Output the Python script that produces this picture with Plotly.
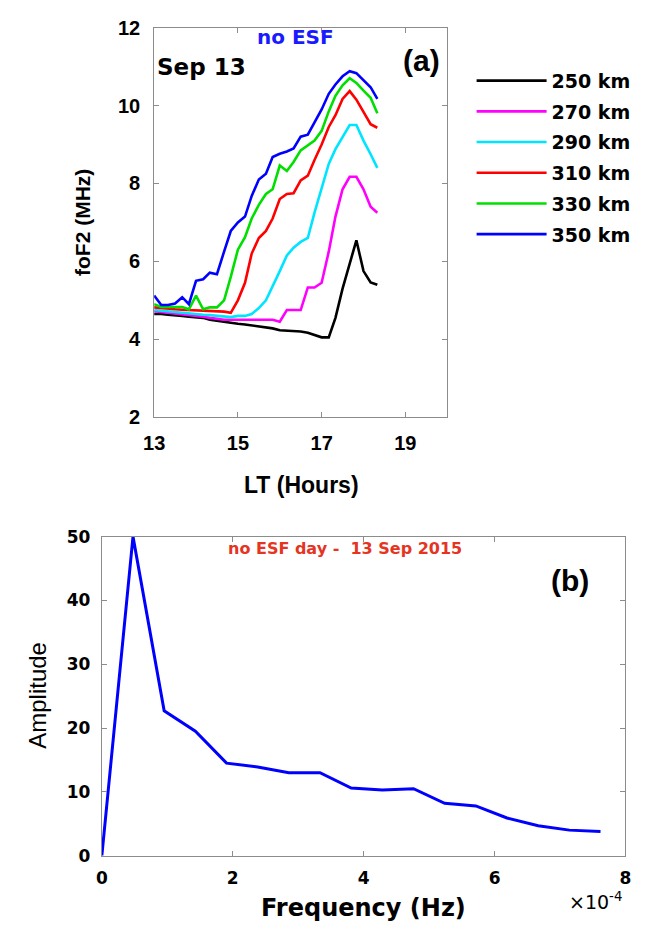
import plotly.graph_objects as go

W, H = 648, 935

# ---------------- data: panel (a) ----------------
lt_hours = [13.00, 13.17, 13.33, 13.50, 13.67, 13.83, 14.00, 14.17, 14.33, 14.50, 14.67,
            14.83, 15.00, 15.17, 15.33, 15.50, 15.67, 15.83, 16.00, 16.17, 16.33, 16.50,
            16.67, 16.83, 17.00, 17.17, 17.33, 17.50, 17.67, 17.83, 18.00, 18.17, 18.33]

fof2_250 = [4.65, 4.65, 4.63, 4.62, 4.60, 4.58, 4.57, 4.55, 4.50, 4.47, 4.45,
            4.42, 4.40, 4.38, 4.36, 4.33, 4.30, 4.28, 4.23, 4.22, 4.22, 4.20,
            4.17, 4.12, 4.05, 4.05, 4.55, 5.30, 5.96, 6.54, 5.75, 5.46, 5.40]
fof2_270 = [4.72, 4.70, 4.68, 4.67, 4.65, 4.63, 4.60, 4.58, 4.55, 4.52, 4.50,
            4.50, 4.50, 4.50, 4.50, 4.50, 4.50, 4.50, 4.45, 4.75, 4.75, 4.75,
            5.33, 5.33, 5.45, 6.25, 7.15, 7.85, 8.17, 8.17, 7.85, 7.40, 7.25]
fof2_290 = [4.75, 4.73, 4.72, 4.70, 4.68, 4.67, 4.65, 4.63, 4.62, 4.60, 4.58,
            4.57, 4.60, 4.60, 4.65, 4.80, 5.00, 5.35, 5.75, 6.15, 6.35, 6.50,
            6.60, 7.25, 7.85, 8.50, 8.88, 9.20, 9.50, 9.50, 9.10, 8.75, 8.40]
fof2_310 = [4.82, 4.80, 4.78, 4.77, 4.76, 4.75, 4.74, 4.73, 4.72, 4.72, 4.71,
            4.68, 5.00, 5.45, 6.20, 6.60, 6.78, 7.10, 7.60, 7.73, 7.75, 8.08,
            8.20, 8.60, 9.00, 9.45, 9.75, 10.17, 10.37, 10.15, 9.85, 9.52, 9.43]
fof2_330 = [4.90, 4.83, 4.83, 4.83, 4.83, 4.77, 5.12, 4.77, 4.82, 4.82, 5.00,
            5.60, 6.30, 6.62, 7.10, 7.45, 7.73, 7.85, 8.46, 8.32, 8.55, 8.85,
            8.98, 9.10, 9.35, 9.85, 10.25, 10.52, 10.70, 10.58, 10.38, 10.20, 9.80]
fof2_350 = [5.12, 4.88, 4.88, 4.92, 5.08, 4.90, 5.50, 5.54, 5.71, 5.67, 6.25,
            6.78, 7.00, 7.15, 7.68, 8.10, 8.25, 8.68, 8.76, 8.82, 8.90, 9.20,
            9.25, 9.58, 9.90, 10.30, 10.54, 10.75, 10.88, 10.83, 10.66, 10.47, 10.17]

series_names = ["250 km", "270 km", "290 km", "310 km", "330 km", "350 km"]
series_values = [fof2_250, fof2_270, fof2_290, fof2_310, fof2_330, fof2_350]
series_colors = ["#000000", "#ff00ff", "#00e5ff", "#ff0000", "#00e000", "#0000ff"]

# ---------------- data: panel (b) ----------------
freq_e4 = [0.000, 0.476, 0.952, 1.429, 1.905, 2.381, 2.857, 3.333, 3.810, 4.286,
           4.762, 5.238, 5.714, 6.190, 6.667, 7.143, 7.619]
amplitude = [0.0, 50.0, 22.7, 19.5, 14.5, 13.9, 13.0, 13.0, 10.6, 10.3,
             10.5, 8.2, 7.8, 5.9, 4.7, 4.0, 3.8]

fig = go.Figure()

for name, vals, col in zip(series_names, series_values, series_colors):
    fig.add_trace(go.Scatter(x=lt_hours, y=vals, mode="lines", name=name,
                             legendgroup=name,
                             line=dict(color=col, width=2.6),
                             xaxis="x", yaxis="y"))

fig.add_trace(go.Scatter(x=freq_e4, y=amplitude, mode="lines", showlegend=False,
                         line=dict(color="#0000ff", width=3),
                         xaxis="x2", yaxis="y2"))


def px(x):
    return x / W


def py(y):
    return 1 - y / H


AX = "#8c8c8c"
tick_font_a = dict(family="Liberation Sans, Arial", size=20, color="black", weight="bold")
tick_font_b = dict(family="DejaVu Sans", size=17, color="black", weight="bold")

common = dict(showgrid=False, zeroline=False, showline=True, linecolor=AX, linewidth=1,
              mirror="ticks", ticks="inside", ticklen=5, tickcolor=AX, tickwidth=1)

fig.update_layout(
    width=W, height=H, autosize=False,
    margin=dict(l=0, r=0, t=0, b=0),
    paper_bgcolor="white", plot_bgcolor="white",
    xaxis=dict(domain=[px(147), px(448)], range=[13, 20], tickvals=[13, 15, 17, 19],
               anchor="y", tickfont=tick_font_a, ticklabelstandoff=8, **common),
    yaxis=dict(domain=[py(416), py(17)], range=[2, 12], tickvals=[2, 4, 6, 8, 10, 12],
               anchor="x", tickfont=tick_font_a, ticklabelstandoff=9, **common),
    xaxis2=dict(domain=[px(93.3), px(631)], range=[0, 8], tickvals=[0, 2, 4, 6, 8],
                anchor="y2", tickfont=tick_font_b, ticklabelstandoff=7, **common),
    yaxis2=dict(domain=[py(865), py(538.3)], range=[0, 50], tickvals=[0, 10, 20, 30, 40, 50],
                anchor="x2", tickfont=tick_font_b, ticklabelstandoff=7, **common),
    showlegend=True,
    legend=dict(x=px(473), y=py(52), xanchor="left", yanchor="top",
                font=dict(family="DejaVu Sans", size=19, color="black", weight="bold"),
                itemwidth=70, tracegroupgap=3, bgcolor="rgba(0,0,0,0)",
                borderwidth=0),
)

ann = []


def add_text(text, x, y, size, family="DejaVu Sans", color="black", weight="bold",
             angle=0):
    ann.append(dict(text=text, x=px(x), y=py(y), xref="paper", yref="paper",
                    xanchor="center", yanchor="middle", showarrow=False,
                    textangle=angle,
                    font=dict(family=family, size=size, color=color, weight=weight)))


add_text("no ESF", 292, 27, 20, color="#1a1aff")
add_text("Sep 13", 196, 57, 23)
add_text("(a)", 422, 51, 30, family="Liberation Sans Narrow, Liberation Sans")
add_text("foF2 (MHz)", 74, 217, 21, family="Liberation Sans, Arial", angle=-90)
add_text("LT (Hours)", 298, 485, 23, family="Liberation Sans, Arial")

add_text("no ESF day -\u00a0 13 Sep 2015", 343, 550, 16, color="#e5341f")
add_text("(b)", 574, 583, 30, family="Liberation Sans Narrow, Liberation Sans")
add_text("Amplitude", 27, 701, 24, family="Liberation Sans, Arial", weight="normal", angle=-90)
add_text("Frequency (Hz)", 362, 919, 24)
add_text("\u00d710<sup>-4</sup>", 600, 911, 19, weight="normal")

fig.update_layout(annotations=ann)

fig.write_html("out.html",
               post_script="document.body.style.margin='0px';")
